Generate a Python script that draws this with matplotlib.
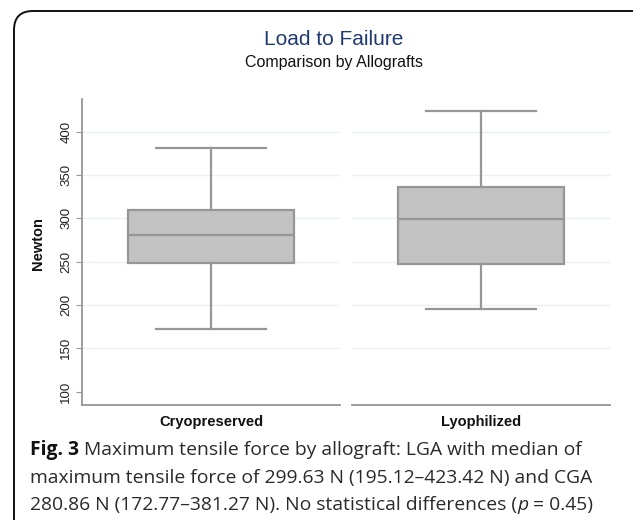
import matplotlib
matplotlib.use("Agg")
import matplotlib.pyplot as plt
from matplotlib.patches import FancyBboxPatch

# ---- data ----
categories = ["Cryopreserved", "Lyophilized"]
medians = [280.86, 299.63]
q1s = [248.0, 247.0]
q3s = [309.5, 336.5]
mins = [172.77, 195.12]
maxs = [381.27, 423.42]
yticks = [100, 150, 200, 250, 300, 350, 400]
title = "Load to Failure"
subtitle = "Comparison by Allografts"
ylabel = "Newton"

W, H = 633, 520
fig = plt.figure(figsize=(W / 100, H / 100), dpi=100)

# rounded border
border = FancyBboxPatch((14 / W, -20 / H), (W + 20 - 14) / W, (H - 11 + 20) / H,
                        boxstyle="round,pad=0,rounding_size=0.03",
                        transform=fig.transFigure, facecolor="none",
                        edgecolor="#111111", linewidth=1.4, mutation_aspect=W / H)
fig.patches.append(border)

fig.text(334 / W, 1 - 45 / H, title, ha="center", va="baseline",
         fontsize=15, color="#1F3A70", family="Liberation Sans")
fig.text(334 / W, 1 - 67.5 / H, subtitle, ha="center", va="baseline",
         fontsize=11.5, color="#111111", family="Liberation Sans")

ybot, ytop = 84.6, 437.7
ax_b = 1 - 405 / H
ax_h = (405 - 99) / H
lefts = [82 / W, 352 / W]
width = 258 / W

box_face = "#C2C2C2"
edge = "#969696"
grid_c = "#E8F1F3"

axes = []
for i, cat in enumerate(categories):
    ax = fig.add_axes([lefts[i], ax_b, width, ax_h])
    axes.append(ax)
    stats = [dict(med=medians[i], q1=q1s[i], q3=q3s[i],
                  whislo=mins[i], whishi=maxs[i], label=cat, fliers=[])]
    ax.bxp(stats, positions=[1], widths=0.64, capwidths=0.43, patch_artist=True,
           showfliers=False,
           boxprops=dict(facecolor=box_face, edgecolor=edge, linewidth=1.6),
           medianprops=dict(color=edge, linewidth=1.6),
           whiskerprops=dict(color=edge, linewidth=1.6),
           capprops=dict(color=edge, linewidth=1.6), zorder=3)
    ax.set_xlim(0.5, 1.5)
    ax.set_ylim(ybot, ytop)
    for t in yticks[1:]:
        ax.axhline(t, color=grid_c, linewidth=1.0, zorder=1)
    for s in ["top", "right"]:
        ax.spines[s].set_visible(False)
    ax.spines["bottom"].set_color(edge)
    ax.spines["bottom"].set_linewidth(1.3)
    ax.set_xticks([1])
    ax.set_xticklabels([cat], fontsize=10.5, family="Liberation Sans",
                       color="#111111", fontweight="bold")
    ax.tick_params(axis="x", length=0, pad=7)
    ax.set_facecolor("none")
    if i == 0:
        ax.spines["left"].set_color(edge)
        ax.spines["left"].set_linewidth(1.3)
        ax.set_yticks(yticks)
        ax.set_yticklabels([str(t) for t in yticks], rotation=90, va="center",
                           fontsize=9.5, family="Liberation Sans", color="#222222")
        ax.tick_params(axis="y", length=4, color=edge, pad=3)
        ax.set_ylabel(ylabel, fontsize=10.5, family="Liberation Sans",
                      fontweight="bold", color="#111111", labelpad=5)
        ax.yaxis.set_label_coords(-0.145, 0.526)
    else:
        ax.spines["left"].set_visible(False)
        ax.set_yticks([])

# caption with mixed styles
fig.canvas.draw()
renderer = fig.canvas.get_renderer()
cap_fs = 13.9
cap_family = "Open Sans"


def draw_line(pieces, x0, ybase):
    x = x0
    for txt, kw in pieces:
        opts = dict(fontsize=cap_fs, family=cap_family, color="#2a2a2a")
        opts.update(kw)
        t = fig.text(x / W, 1 - ybase / H, txt, ha="left", va="baseline", **opts)
        bb = t.get_window_extent(renderer=renderer)
        x += bb.width


draw_line([("Fig. 3", dict(fontweight="bold", color="#111111")),
           (" Maximum tensile force by allograft: LGA with median of", {})], 30, 455)
draw_line([("maximum tensile force of 299.63 N (195.12\u2013423.42 N) and CGA", {})], 30, 482.5)
draw_line([("280.86 N (172.77\u2013381.27 N). No statistical differences (", {}),
           ("p", dict(style="italic")),
           (" = 0.45)", {})], 30, 510)

fig.savefig("out.png", dpi=100)
